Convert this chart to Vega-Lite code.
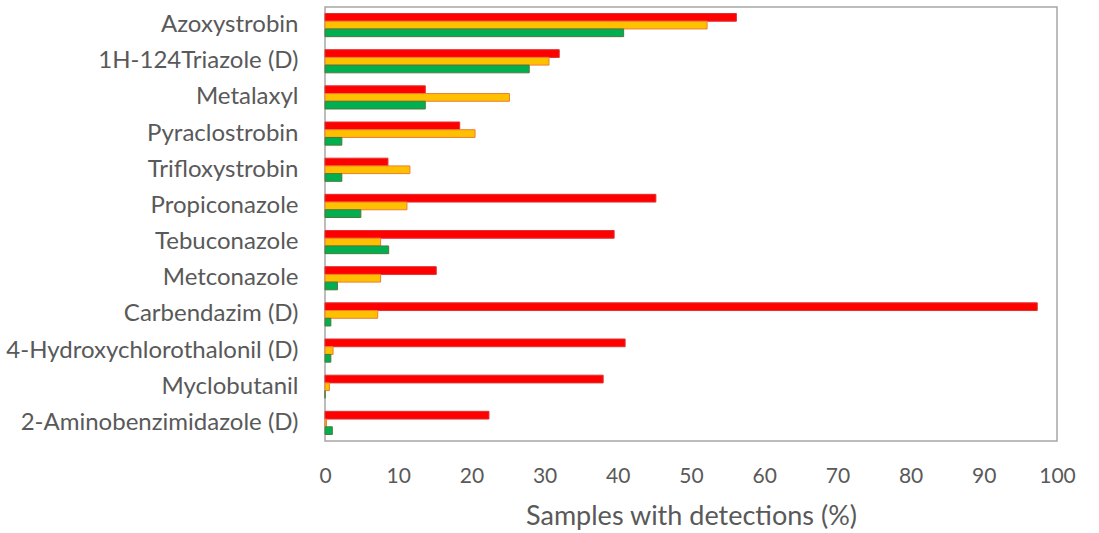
{
  "$schema": "https://vega.github.io/schema/vega-lite/v6.json",
  "width": 732,
  "height": 434,
  "autosize": "none",
  "padding": {"left": 325, "top": 7, "right": 42, "bottom": 92},
  "background": "white",
  "config": {
    "view": {"stroke": "#A6A6A6", "strokeWidth": 1.5},
    "font": "Lato"
  },
  "data": {
    "values": [
      {"compound": "Azoxystrobin", "series": "Series 1", "value": 56.2},
      {"compound": "Azoxystrobin", "series": "Series 2", "value": 52.2},
      {"compound": "Azoxystrobin", "series": "Series 3", "value": 40.8},
      {"compound": "1H-124Triazole (D)", "series": "Series 1", "value": 32.0},
      {"compound": "1H-124Triazole (D)", "series": "Series 2", "value": 30.6},
      {"compound": "1H-124Triazole (D)", "series": "Series 3", "value": 27.9},
      {"compound": "Metalaxyl", "series": "Series 1", "value": 13.7},
      {"compound": "Metalaxyl", "series": "Series 2", "value": 25.2},
      {"compound": "Metalaxyl", "series": "Series 3", "value": 13.7},
      {"compound": "Pyraclostrobin", "series": "Series 1", "value": 18.4},
      {"compound": "Pyraclostrobin", "series": "Series 2", "value": 20.5},
      {"compound": "Pyraclostrobin", "series": "Series 3", "value": 2.3},
      {"compound": "Trifloxystrobin", "series": "Series 1", "value": 8.6},
      {"compound": "Trifloxystrobin", "series": "Series 2", "value": 11.6},
      {"compound": "Trifloxystrobin", "series": "Series 3", "value": 2.3},
      {"compound": "Propiconazole", "series": "Series 1", "value": 45.2},
      {"compound": "Propiconazole", "series": "Series 2", "value": 11.2},
      {"compound": "Propiconazole", "series": "Series 3", "value": 4.9},
      {"compound": "Tebuconazole", "series": "Series 1", "value": 39.5},
      {"compound": "Tebuconazole", "series": "Series 2", "value": 7.6},
      {"compound": "Tebuconazole", "series": "Series 3", "value": 8.7},
      {"compound": "Metconazole", "series": "Series 1", "value": 15.2},
      {"compound": "Metconazole", "series": "Series 2", "value": 7.6},
      {"compound": "Metconazole", "series": "Series 3", "value": 1.7},
      {"compound": "Carbendazim (D)", "series": "Series 1", "value": 97.3},
      {"compound": "Carbendazim (D)", "series": "Series 2", "value": 7.2},
      {"compound": "Carbendazim (D)", "series": "Series 3", "value": 0.8},
      {"compound": "4-Hydroxychlorothalonil (D)", "series": "Series 1", "value": 41.0},
      {"compound": "4-Hydroxychlorothalonil (D)", "series": "Series 2", "value": 1.1},
      {"compound": "4-Hydroxychlorothalonil (D)", "series": "Series 3", "value": 0.8},
      {"compound": "Myclobutanil", "series": "Series 1", "value": 38.0},
      {"compound": "Myclobutanil", "series": "Series 2", "value": 0.6},
      {"compound": "Myclobutanil", "series": "Series 3", "value": 0},
      {"compound": "2-Aminobenzimidazole (D)", "series": "Series 1", "value": 22.4},
      {"compound": "2-Aminobenzimidazole (D)", "series": "Series 2", "value": 0.2},
      {"compound": "2-Aminobenzimidazole (D)", "series": "Series 3", "value": 1.0}
    ]
  },
  "mark": {"type": "bar", "strokeWidth": 1},
  "encoding": {
    "y": {
      "field": "compound",
      "type": "nominal",
      "sort": null,
      "scale": {"paddingInner": 0.36, "paddingOuter": 0.18},
      "axis": {
        "title": null,
        "domain": false,
        "ticks": false,
        "labelPadding": 27,
        "labelLimit": 400,
        "labelFontSize": 24,
        "labelColor": "#595959",
        "labelFont": "Lato"
      }
    },
    "yOffset": {"field": "series", "type": "nominal", "sort": ["Series 1", "Series 2", "Series 3"]},
    "x": {
      "field": "value",
      "type": "quantitative",
      "scale": {"domain": [0, 100], "nice": false},
      "axis": {
        "values": [0, 10, 20, 30, 40, 50, 60, 70, 80, 90, 100],
        "grid": false,
        "domain": false,
        "ticks": false,
        "labelFlush": false,
        "labelPadding": 24,
        "labelFontSize": 21,
        "labelColor": "#595959",
        "labelFont": "Lato",
        "title": "Samples with detections (%)",
        "titleFontSize": 27,
        "titleFontWeight": "normal",
        "titleColor": "#595959",
        "titleFont": "Lato",
        "titlePadding": 17
      }
    },
    "color": {
      "field": "series",
      "type": "nominal",
      "scale": {"domain": ["Series 1", "Series 2", "Series 3"], "range": ["#FF0000", "#FFC000", "#00B050"]},
      "legend": null
    },
    "stroke": {
      "field": "series",
      "type": "nominal",
      "scale": {"domain": ["Series 1", "Series 2", "Series 3"], "range": ["#E0302F", "#ED7D31", "#4E7A3A"]},
      "legend": null
    }
  }
}
